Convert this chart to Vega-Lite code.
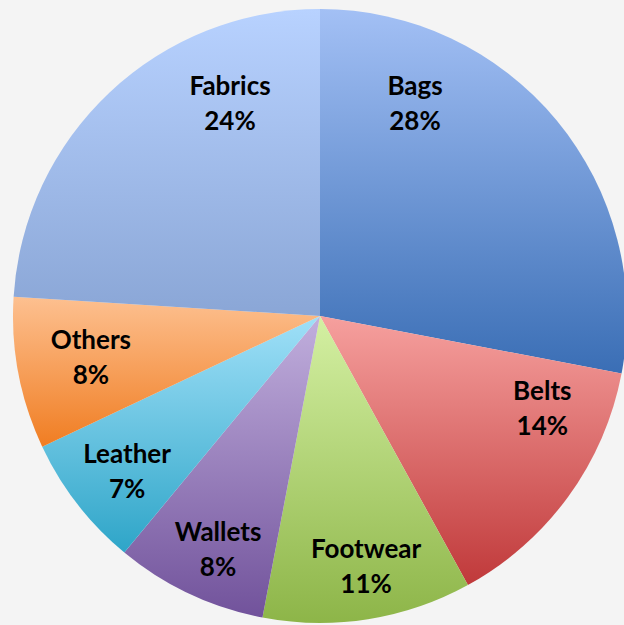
{
  "$schema": "https://vega.github.io/schema/vega-lite/v6.json",
  "width": 608,
  "height": 618,
  "autosize": {"type": "none"},
  "padding": {"left": 16, "top": 7, "right": 0, "bottom": 0},
  "background": "#f4f4f4",
  "config": {"view": {"stroke": null}, "text": {"font": "Lato", "fontWeight": "bold", "fontSize": 26, "lineHeight": 35, "lineBreak": "\n", "align": "center", "baseline": "middle", "color": "#000000", "dy": -17}},
  "data": {
    "values": [
      {"order": 1, "category": "Bags", "value": 28, "label": "Bags\n28%"},
      {"order": 2, "category": "Belts", "value": 14, "label": "Belts\n14%"},
      {"order": 3, "category": "Footwear", "value": 11, "label": "Footwear\n11%"},
      {"order": 4, "category": "Wallets", "value": 8, "label": "Wallets\n8%"},
      {"order": 5, "category": "Leather", "value": 7, "label": "Leather\n7%"},
      {"order": 6, "category": "Others", "value": 8, "label": "Others\n8%"},
      {"order": 7, "category": "Fabrics", "value": 24, "label": "Fabrics\n24%"}
    ]
  },
  "transform": [
    {"stack": "value", "groupby": [], "sort": [{"field": "order"}], "as": ["v0", "v1"]}
  ],
  "layer": [
    {
      "transform": [{"filter": "datum.category === 'Bags'"}],
      "layer": [
        {"mark": {"type": "arc", "radius": 307, "fill": {"gradient": "linear", "x1": 0, "y1": 0, "x2": 0, "y2": 1, "stops": [{"offset": 0, "color": "#a3c0f5"}, {"offset": 1, "color": "#3a6eb5"}]}},
         "encoding": {"theta": {"field": "v0", "type": "quantitative", "scale": {"domain": [0, 100]}}, "theta2": {"field": "v1"}}},
        {"mark": {"type": "text", "radius": 232, "thetaOffset": 0.422},
         "encoding": {"theta": {"field": "v0", "type": "quantitative", "scale": {"domain": [0, 100]}}, "text": {"field": "label"}}}
      ]
    },
    {
      "transform": [{"filter": "datum.category === 'Belts'"}],
      "layer": [
        {"mark": {"type": "arc", "radius": 307, "fill": {"gradient": "linear", "x1": 0, "y1": 0, "x2": 0, "y2": 1, "stops": [{"offset": 0, "color": "#f6a09e"}, {"offset": 1, "color": "#c0393a"}]}},
         "encoding": {"theta": {"field": "v0", "type": "quantitative", "scale": {"domain": [0, 100]}}, "theta2": {"field": "v1"}}},
        {"mark": {"type": "text", "radius": 241, "thetaOffset": 0.208},
         "encoding": {"theta": {"field": "v0", "type": "quantitative", "scale": {"domain": [0, 100]}}, "text": {"field": "label"}}}
      ]
    },
    {
      "transform": [{"filter": "datum.category === 'Footwear'"}],
      "layer": [
        {"mark": {"type": "arc", "radius": 307, "fill": {"gradient": "linear", "x1": 0, "y1": 0, "x2": 0, "y2": 1, "stops": [{"offset": 0, "color": "#d4f0a3"}, {"offset": 1, "color": "#8db548"}]}},
         "encoding": {"theta": {"field": "v0", "type": "quantitative", "scale": {"domain": [0, 100]}}, "theta2": {"field": "v1"}}},
        {"mark": {"type": "text", "radius": 255, "thetaOffset": 0.321},
         "encoding": {"theta": {"field": "v0", "type": "quantitative", "scale": {"domain": [0, 100]}}, "text": {"field": "label"}}}
      ]
    },
    {
      "transform": [{"filter": "datum.category === 'Wallets'"}],
      "layer": [
        {"mark": {"type": "arc", "radius": 307, "fill": {"gradient": "linear", "x1": 0, "y1": 0, "x2": 0, "y2": 1, "stops": [{"offset": 0, "color": "#c1afdd"}, {"offset": 1, "color": "#71529b"}]}},
         "encoding": {"theta": {"field": "v0", "type": "quantitative", "scale": {"domain": [0, 100]}}, "theta2": {"field": "v1"}}},
        {"mark": {"type": "text", "radius": 255, "thetaOffset": 0.223},
         "encoding": {"theta": {"field": "v0", "type": "quantitative", "scale": {"domain": [0, 100]}}, "text": {"field": "label"}}}
      ]
    },
    {
      "transform": [{"filter": "datum.category === 'Leather'"}],
      "layer": [
        {"mark": {"type": "arc", "radius": 307, "fill": {"gradient": "linear", "x1": 0, "y1": 0, "x2": 0, "y2": 1, "stops": [{"offset": 0, "color": "#a0e0f8"}, {"offset": 1, "color": "#2ea5c8"}]}},
         "encoding": {"theta": {"field": "v0", "type": "quantitative", "scale": {"domain": [0, 100]}}, "theta2": {"field": "v1"}}},
        {"mark": {"type": "text", "radius": 248, "thetaOffset": 0.2},
         "encoding": {"theta": {"field": "v0", "type": "quantitative", "scale": {"domain": [0, 100]}}, "text": {"field": "label"}}}
      ]
    },
    {
      "transform": [{"filter": "datum.category === 'Others'"}],
      "layer": [
        {"mark": {"type": "arc", "radius": 307, "fill": {"gradient": "linear", "x1": 0, "y1": 0, "x2": 0, "y2": 1, "stops": [{"offset": 0, "color": "#fdc090"}, {"offset": 1, "color": "#f07d22"}]}},
         "encoding": {"theta": {"field": "v0", "type": "quantitative", "scale": {"domain": [0, 100]}}, "theta2": {"field": "v1"}}},
        {"mark": {"type": "text", "radius": 233, "thetaOffset": 0.258},
         "encoding": {"theta": {"field": "v0", "type": "quantitative", "scale": {"domain": [0, 100]}}, "text": {"field": "label"}}}
      ]
    },
    {
      "transform": [{"filter": "datum.category === 'Fabrics'"}],
      "layer": [
        {"mark": {"type": "arc", "radius": 307, "fill": {"gradient": "linear", "x1": 0, "y1": 0, "x2": 0, "y2": 1, "stops": [{"offset": 0, "color": "#b8d2ff"}, {"offset": 1, "color": "#8aa6d6"}]}},
         "encoding": {"theta": {"field": "v0", "type": "quantitative", "scale": {"domain": [0, 100]}}, "theta2": {"field": "v1"}}},
        {"mark": {"type": "text", "radius": 230, "thetaOffset": 1.106},
         "encoding": {"theta": {"field": "v0", "type": "quantitative", "scale": {"domain": [0, 100]}}, "text": {"field": "label"}}}
      ]
    }
  ]
}
